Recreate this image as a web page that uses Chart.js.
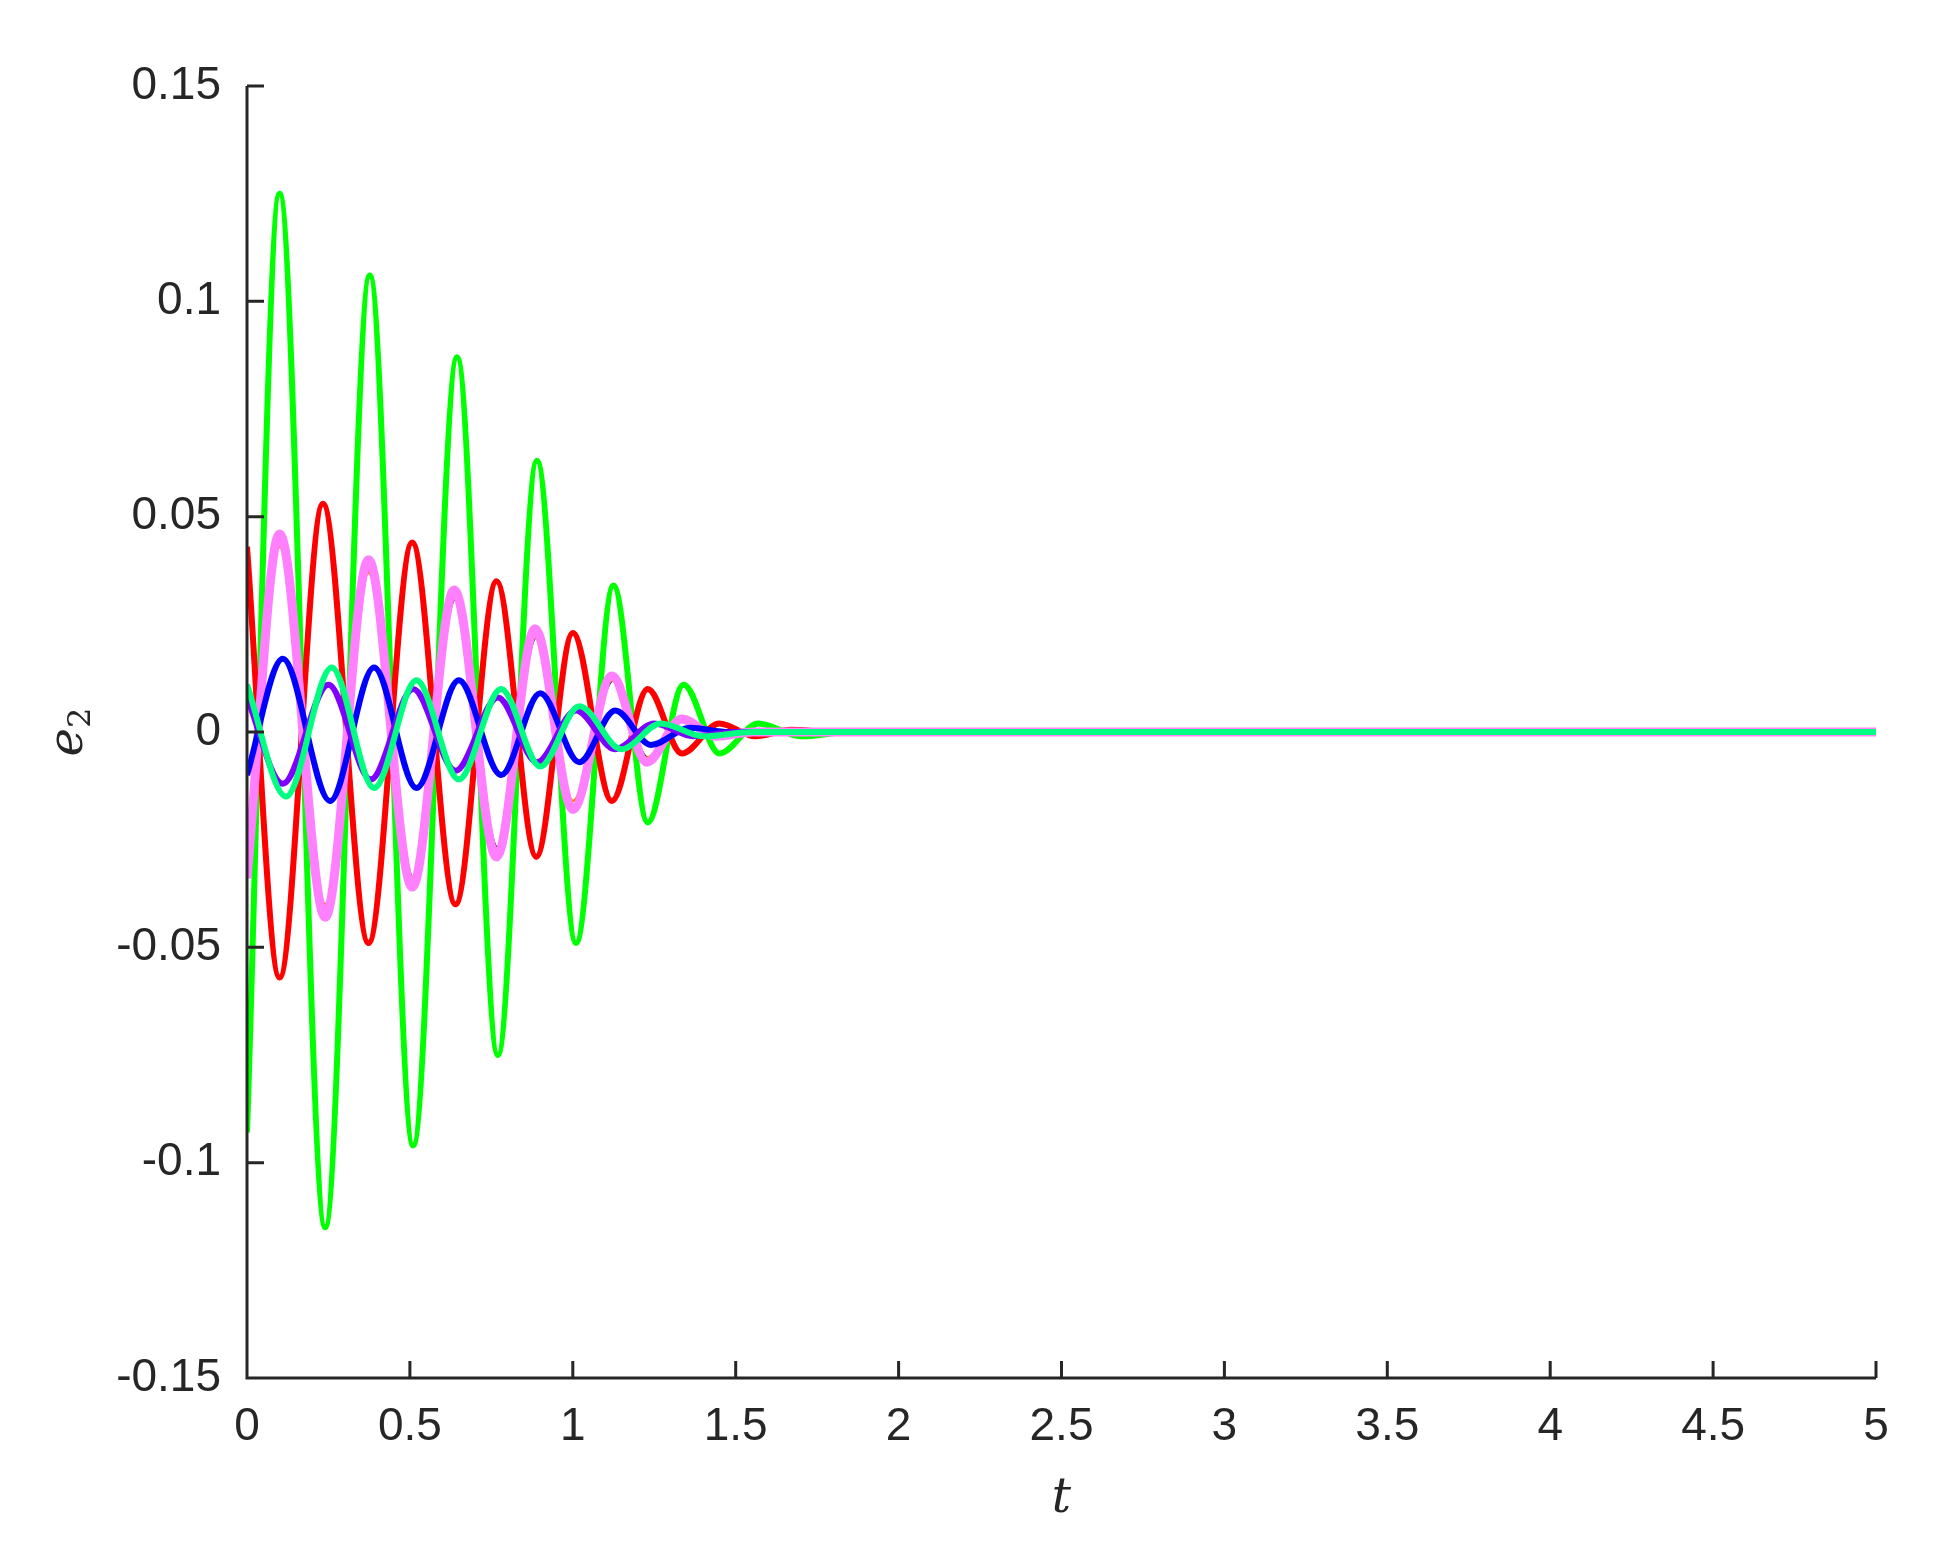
<!DOCTYPE html>
<html><head><meta charset="utf-8">
<script src="https://cdn.jsdelivr.net/npm/chart.js@4/dist/chart.umd.min.js"></script>
<style>html,body{margin:0;padding:0;background:#fff}#w{width:1948px;height:1555px}</style>
</head><body><div id="w"><canvas id="c"></canvas></div>
<script>
const xTicks = [0,0.5,1,1.5,2,2.5,3,3.5,4,4.5,5];
const yTicks = [-0.15,-0.1,-0.05,0,0.05,0.1,0.15];

const greenT = [0,0.1,0.24,0.377,0.51,0.645,0.77,0.89,1.01,1.125,1.23,1.34,1.45,1.57,1.7,1.85,5];
const greenV = [-0.093,0.125,-0.115,0.106,-0.096,0.087,-0.075,0.063,-0.049,0.034,-0.021,0.011,-0.005,0.002,-0.001,0,0];
const redT = [0,0.1,0.233,0.373,0.507,0.64,0.766,0.888,1.0,1.12,1.23,1.335,1.45,1.56,1.67,1.8,5];
const redV = [0.043,-0.057,0.053,-0.049,0.044,-0.040,0.035,-0.029,0.023,-0.016,0.010,-0.005,0.002,-0.001,0.0005,0,0];
const pinkT = [0,0.1,0.24,0.373,0.507,0.636,0.766,0.884,1.0,1.12,1.227,1.334,1.44,1.55,5];
const pinkV = [-0.034,0.046,-0.043,0.040,-0.036,0.033,-0.029,0.024,-0.018,0.013,-0.007,0.003,-0.001,0,0];
const orangeV = [-0.032,0.043,-0.040,0.037,-0.034,0.031,-0.027,0.022,-0.016,0.012,-0.006,0.003,-0.001,0,0];
const blackT = [0,0.105,0.245,0.378,0.512,0.641,0.771,0.889,1.005,1.125,1.232,1.339,1.445,1.555,5];
const blackV = [-0.031,0.044,-0.041,0.038,-0.034,0.031,-0.027,0.022,-0.017,0.012,-0.006,0.003,-0.001,0,0];
const blueT = [0,0.11,0.255,0.39,0.52,0.65,0.78,0.9,1.02,1.13,1.24,1.36,1.48,5];
const blueV = [-0.010,0.017,-0.016,0.015,-0.013,0.012,-0.010,0.009,-0.007,0.005,-0.003,0.001,0,0];
const purpleT = [0,0.11,0.25,0.38,0.51,0.64,0.77,0.89,1.01,1.13,1.25,1.37,1.5,5];
const purpleV = [0.008,-0.012,0.011,-0.011,0.010,-0.009,0.008,-0.007,0.005,-0.004,0.002,-0.001,0,0];
const tealT = [0,0.12,0.26,0.39,0.52,0.65,0.78,0.9,1.02,1.15,1.27,1.4,1.55,5];
const tealV = [0.011,-0.015,0.015,-0.013,0.012,-0.011,0.010,-0.008,0.006,-0.004,0.002,-0.001,0,0];

const pts=(t,v)=>t.map((x,i)=>({x, y:v[i]}));
const ds=(t,v,c,w,o)=>({data:pts(t,v),borderColor:c,borderWidth:w,order:o,pointRadius:0,fill:false,cubicInterpolationMode:'monotone'});

const axisColor='#262626';
const overlay={id:'ov',afterDraw(ch){
  const c=ch.ctx,x=ch.scales.x,y=ch.scales.y;
  c.save();c.strokeStyle=axisColor;c.lineWidth=3;
  c.beginPath();
  c.moveTo(x.left,y.top);c.lineTo(x.left,y.bottom);c.lineTo(x.right,y.bottom);
  yTicks.forEach(v=>{const p=y.getPixelForValue(v);c.moveTo(x.left,p);c.lineTo(x.left+17,p);});
  xTicks.forEach(v=>{const p=x.getPixelForValue(v);c.moveTo(p,y.bottom);c.lineTo(p,y.bottom-17);});
  c.stroke();
  c.fillStyle=axisColor;
  c.font='italic 48px "DejaVu Serif"';c.textAlign='center';c.textBaseline='middle';
  c.fillText('t',(x.left+x.right)/2,1500);
  c.save();c.translate(70,(y.top+y.bottom)/2);c.rotate(-Math.PI/2);
  c.font='italic 48px "DejaVu Serif"';c.textAlign='right';c.fillText('e',4,0);
  c.font='32px "DejaVu Serif"';c.textAlign='left';c.fillText('2',4,12);
  c.restore();c.restore();
}};

new Chart(document.getElementById('c'),{
  type:'line',
  data:{datasets:[
    ds(greenT,greenV,'#00ff00',6,7),
    ds(redT,redV,'#ff0000',6,6),
    ds(pinkT,pinkV,'#ff80ff',9,3),
    ds(pinkT,orangeV,'#ff8000',3,4),
    ds(blackT,blackV,'#000000',2,5),
    ds(blueT,blueV,'#0000ff',6,2),
    ds(purpleT,purpleV,'#8000ff',6,1),
    ds(tealT,tealV,'#00ff80',6,0)
  ]},
  plugins:[overlay],
  options:{responsive:true,maintainAspectRatio:false,animation:false,
    layout:{padding:{left:0,top:86,right:72,bottom:0}},
    plugins:{legend:{display:false},tooltip:{enabled:false}},
    scales:{
      x:{type:'linear',min:0,max:5,afterBuildTicks(s){s.ticks=xTicks.map(v=>({value:v}));},
        afterFit(s){s.height=1555-1378;},
        grid:{display:false},border:{display:false},
        ticks:{color:axisColor,padding:14,maxRotation:0,font:{family:'Liberation Sans',size:46},callback:v=>String(v)}},
      y:{type:'linear',min:-0.15,max:0.15,afterBuildTicks(s){s.ticks=yTicks.map(v=>({value:v}));},
        afterFit(s){s.width=247;},
        grid:{display:false},border:{display:false},
        ticks:{color:axisColor,padding:18,font:{family:'Liberation Sans',size:46},callback:v=>String(Math.round(v*100)/100)}}
    }}
});
</script></body></html>
